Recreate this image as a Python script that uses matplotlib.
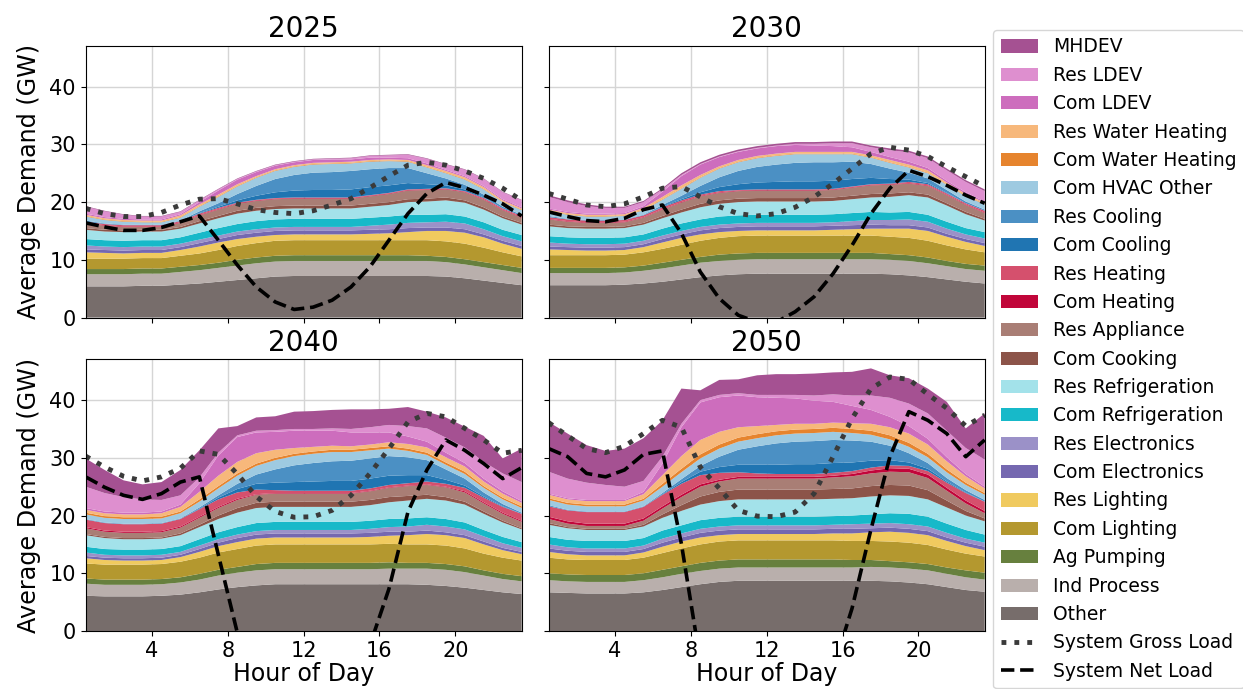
import matplotlib
matplotlib.use("Agg")
import matplotlib.pyplot as plt
from matplotlib.lines import Line2D
from matplotlib.patches import Patch
import numpy as np

hours = [h + 0.5 for h in range(24)]
years = ["2025", "2030", "2040", "2050"]

categories = ["Other", "Ind Process", "Ag Pumping", "Com Lighting", "Res Lighting",
              "Com Electronics", "Res Electronics", "Com Refrigeration", "Res Refrigeration",
              "Com Cooking", "Res Appliance", "Com Heating", "Res Heating", "Com Cooling",
              "Res Cooling", "Com HVAC Other", "Com Water Heating", "Res Water Heating",
              "Com LDEV", "Res LDEV", "MHDEV"]

# ---------------- 2025 ----------------
other_2025 = [5.4,5.4,5.4,5.5,5.5,5.7,5.9,6.2,6.5,6.8,7.1,7.2,7.2,7.2,7.2,7.2,7.2,7.2,7.2,7.1,6.8,6.4,6.0,5.6]
ind_2025 = [2.1,2.1,2.1,2.1,2.1,2.2,2.3,2.4,2.5,2.6,2.6,2.6,2.6,2.6,2.6,2.6,2.6,2.6,2.6,2.5,2.4,2.3,2.2,2.1]
ag_2025 = [0.9,0.9,0.9,0.9,0.9,0.9,0.9,0.9,1.0,1.0,1.0,1.0,1.0,1.0,1.0,1.0,1.0,1.0,0.9,0.9,0.9,0.9,0.9,0.9]
coml_2025 = [1.8,1.8,1.8,1.8,1.8,1.9,2.0,2.2,2.4,2.5,2.6,2.6,2.6,2.6,2.6,2.6,2.6,2.6,2.7,2.7,2.7,2.5,2.2,2.0]
resl_2025 = [1.1,1.0,0.9,0.9,0.9,1.0,1.2,1.3,1.2,1.1,1.0,1.0,1.0,1.0,1.0,1.1,1.2,1.4,1.6,1.8,1.9,1.8,1.5,1.3]
come_2025 = [0.5,0.5,0.5,0.5,0.5,0.5,0.6,0.6,0.7,0.7,0.7,0.7,0.7,0.7,0.7,0.7,0.7,0.7,0.6,0.6,0.6,0.5,0.5,0.5]
rese_2025 = [0.7,0.6,0.6,0.6,0.6,0.6,0.6,0.6,0.6,0.6,0.6,0.6,0.6,0.6,0.6,0.7,0.8,0.9,0.9,1.0,1.0,0.9,0.8,0.8]
comr_2025 = [1.1,1.1,1.1,1.1,1.1,1.1,1.2,1.3,1.3,1.4,1.4,1.4,1.4,1.4,1.4,1.4,1.4,1.4,1.3,1.3,1.2,1.2,1.1,1.1]
resr_2025 = [1.6,1.5,1.5,1.5,1.5,1.5,1.6,1.7,1.8,1.8,1.8,1.8,1.8,1.8,1.8,1.9,2.0,2.2,2.3,2.4,2.4,2.2,2.0,1.8]
cook_2025 = [0.3,0.3,0.3,0.3,0.3,0.3,0.4,0.4,0.5,0.5,0.5,0.5,0.5,0.5,0.5,0.5,0.5,0.5,0.5,0.5,0.4,0.4,0.3,0.3]
app_2025 = [0.8,0.7,0.6,0.5,0.5,0.7,1.0,1.1,1.2,1.2,1.2,1.2,1.2,1.2,1.2,1.3,1.4,1.5,1.5,1.4,1.4,1.3,1.1,0.9]
comh_2025 = [0.1,0.1,0.1,0.1,0.1,0.1,0.1,0.1,0.1,0.1,0.1,0.1,0.1,0.1,0.1,0.1,0.1,0.1,0.1,0.1,0.1,0.1,0.1,0.1]
resh_2025 = [0.2,0.2,0.2,0.2,0.2,0.2,0.2,0.2,0.1,0.1,0.1,0.1,0.1,0.1,0.1,0.1,0.1,0.1,0.1,0.1,0.1,0.2,0.2,0.2]
comc_2025 = [0.0,0.0,0.0,0.0,0.0,0.0,0.1,0.2,0.4,0.7,1.0,1.2,1.3,1.3,1.4,1.4,1.3,1.1,0.8,0.5,0.3,0.1,0.0,0.0]
resc_2025 = [0.2,0.1,0.1,0.1,0.1,0.1,0.3,0.6,1.1,1.7,2.3,2.7,3.0,3.1,3.2,3.1,3.0,2.6,1.9,1.2,0.8,0.5,0.3,0.2]
hvac_2025 = [0.7,0.6,0.5,0.4,0.4,0.5,0.8,1.1,1.3,1.4,1.4,1.4,1.4,1.4,1.3,1.3,1.2,1.1,1.0,0.9,0.9,0.9,0.8,0.8]
comw_2025 = [0.1,0.1,0.1,0.1,0.1,0.1,0.1,0.1,0.1,0.1,0.1,0.1,0.1,0.1,0.1,0.1,0.1,0.1,0.1,0.1,0.1,0.1,0.1,0.1]
resw_2025 = [0.2,0.2,0.2,0.2,0.2,0.3,0.3,0.3,0.3,0.2,0.2,0.2,0.2,0.2,0.2,0.2,0.2,0.2,0.3,0.3,0.3,0.3,0.2,0.2]
comldev_2025 = [0.2,0.2,0.2,0.2,0.2,0.2,0.4,0.7,0.8,0.7,0.6,0.5,0.5,0.5,0.4,0.4,0.3,0.3,0.3,0.2,0.2,0.2,0.2,0.2]
resldev_2025 = [1.2,1.0,0.7,0.5,0.5,0.4,0.3,0.2,0.1,0.1,0.1,0.1,0.1,0.1,0.2,0.3,0.4,0.6,0.8,0.9,1.1,1.2,1.2,1.2]
mhdev_2025 = [0.1,0.1,0.1,0.1,0.1,0.1,0.1,0.1,0.1,0.1,0.1,0.1,0.1,0.1,0.1,0.1,0.1,0.1,0.1,0.1,0.1,0.1,0.1,0.1]
gross_2025 = [18.9,18.0,17.5,17.5,18.2,19.5,20.5,20.6,19.7,18.7,18.2,18.0,18.5,19.5,20.6,22.5,24.5,26.4,26.9,26.4,25.4,24.1,22.4,20.3]
net_2025 = [16.4,15.7,15.1,15.1,15.6,16.6,17.6,13.4,9.1,5.3,2.7,1.4,1.8,3.0,5.3,8.8,13.4,18.0,21.5,23.4,22.5,21.2,19.7,17.6]

# ---------------- 2030 ----------------
other_2030 = [5.6,5.6,5.6,5.6,5.7,5.9,6.2,6.6,7.0,7.3,7.5,7.6,7.6,7.6,7.6,7.6,7.6,7.6,7.5,7.3,7.0,6.6,6.2,5.9]
ind_2030 = [2.1,2.1,2.1,2.1,2.1,2.2,2.3,2.4,2.5,2.5,2.5,2.5,2.5,2.5,2.5,2.5,2.5,2.5,2.5,2.5,2.4,2.3,2.2,2.2]
ag_2030 = [0.9,0.9,0.9,0.9,0.9,0.9,1.0,1.0,1.0,1.1,1.1,1.1,1.1,1.1,1.1,1.1,1.1,1.1,1.0,1.0,1.0,0.9,0.9,0.9]
coml_2030 = [2.2,2.2,2.2,2.2,2.2,2.3,2.4,2.6,2.8,2.9,3.0,3.0,3.0,3.0,3.0,3.0,3.0,3.0,3.0,3.0,2.9,2.7,2.5,2.3]
resl_2030 = [1.0,0.9,0.8,0.8,0.8,0.9,1.1,1.2,1.1,1.0,0.9,0.9,0.9,0.9,0.9,1.0,1.1,1.2,1.4,1.6,1.7,1.5,1.3,1.1]
come_2030 = [0.5,0.5,0.5,0.5,0.5,0.5,0.6,0.6,0.7,0.7,0.7,0.7,0.7,0.7,0.7,0.7,0.7,0.7,0.6,0.6,0.6,0.5,0.5,0.5]
rese_2030 = [0.7,0.6,0.6,0.6,0.6,0.6,0.6,0.6,0.6,0.6,0.6,0.6,0.6,0.6,0.6,0.6,0.7,0.8,0.9,1.0,1.0,0.9,0.8,0.8]
comr_2030 = [1.1,1.1,1.1,1.1,1.1,1.1,1.2,1.3,1.3,1.4,1.4,1.4,1.4,1.4,1.4,1.4,1.4,1.4,1.3,1.3,1.2,1.2,1.1,1.1]
resr_2030 = [1.7,1.6,1.6,1.6,1.6,1.7,1.8,1.9,2.1,2.2,2.3,2.3,2.3,2.3,2.3,2.3,2.4,2.5,2.7,2.9,3.0,2.8,2.4,2.0]
cook_2030 = [0.3,0.3,0.3,0.3,0.3,0.3,0.4,0.5,0.6,0.6,0.6,0.6,0.6,0.6,0.6,0.6,0.6,0.6,0.6,0.5,0.5,0.4,0.4,0.3]
app_2030 = [0.9,0.8,0.7,0.7,0.7,0.9,1.1,1.2,1.3,1.3,1.3,1.3,1.3,1.3,1.3,1.3,1.4,1.5,1.5,1.5,1.5,1.4,1.2,1.0]
comh_2030 = [0.1,0.1,0.1,0.1,0.1,0.1,0.1,0.1,0.1,0.1,0.1,0.1,0.1,0.1,0.1,0.1,0.1,0.1,0.1,0.1,0.1,0.1,0.1,0.1]
resh_2030 = [0.3,0.3,0.3,0.3,0.3,0.3,0.3,0.3,0.2,0.2,0.1,0.1,0.1,0.1,0.1,0.1,0.1,0.1,0.1,0.2,0.2,0.2,0.2,0.3]
comc_2030 = [0.0,0.0,0.0,0.0,0.0,0.0,0.1,0.2,0.4,0.7,1.0,1.2,1.3,1.4,1.4,1.4,1.3,1.1,0.8,0.4,0.2,0.1,0.0,0.0]
resc_2030 = [0.2,0.1,0.1,0.1,0.1,0.1,0.3,0.6,1.1,1.7,2.3,2.7,3.0,3.2,3.3,3.2,3.0,2.4,1.8,1.2,0.8,0.5,0.3,0.2]
hvac_2030 = [0.8,0.7,0.6,0.6,0.6,0.8,0.9,1.2,1.4,1.5,1.5,1.5,1.5,1.5,1.4,1.4,1.3,1.1,1.0,0.9,0.9,0.9,0.9,0.9]
comw_2030 = [0.1,0.1,0.1,0.1,0.1,0.1,0.1,0.1,0.1,0.1,0.1,0.1,0.1,0.1,0.1,0.1,0.1,0.1,0.1,0.1,0.1,0.1,0.1,0.1]
resw_2030 = [0.2,0.2,0.2,0.2,0.2,0.3,0.4,0.5,0.4,0.3,0.3,0.3,0.3,0.3,0.3,0.3,0.3,0.3,0.4,0.4,0.4,0.3,0.3,0.2]
comldev_2030 = [0.2,0.2,0.2,0.2,0.2,0.3,0.9,1.6,1.8,1.6,1.4,1.3,1.3,1.2,1.1,1.0,0.8,0.6,0.5,0.5,0.4,0.3,0.3,0.2]
resldev_2030 = [2.0,1.7,1.3,1.0,0.9,0.7,0.4,0.2,0.1,0.1,0.1,0.1,0.1,0.2,0.3,0.5,0.7,0.8,1.2,1.6,1.7,1.8,1.8,1.8]
mhdev_2030 = [0.3,0.3,0.3,0.2,0.2,0.2,0.2,0.3,0.3,0.3,0.3,0.3,0.3,0.3,0.3,0.3,0.3,0.3,0.3,0.3,0.3,0.3,0.3,0.3]
gross_2030 = [21.5,20.5,19.5,19.2,19.7,20.9,22.4,22.7,20.9,19.2,18.0,17.6,18.0,19.1,20.9,23.2,25.8,28.4,29.5,29.0,27.9,26.1,24.4,22.7]
net_2030 = [18.3,17.5,16.8,16.6,17.2,18.7,19.5,14.6,7.9,3.3,0.4,-0.8,-0.8,1.0,3.6,7.6,12.5,18.0,22.4,25.5,24.4,22.9,21.2,19.8]

# ---------------- 2040 ----------------
other_2040 = [6.1,6.0,6.0,6.0,6.1,6.3,6.7,7.2,7.6,7.9,8.1,8.1,8.1,8.1,8.1,8.1,8.1,8.1,8.0,7.8,7.5,7.1,6.7,6.4]
ind_2040 = [2.1,2.0,2.0,2.0,2.0,2.1,2.2,2.4,2.5,2.6,2.6,2.6,2.6,2.6,2.6,2.6,2.7,2.7,2.8,2.8,2.7,2.5,2.3,2.2]
ag_2040 = [0.9,0.9,0.9,0.9,0.9,0.9,1.0,1.0,1.0,1.1,1.1,1.1,1.1,1.1,1.1,1.1,1.1,1.0,1.0,1.0,1.0,0.9,0.9,0.9]
coml_2040 = [2.6,2.6,2.6,2.6,2.6,2.7,2.8,3.0,3.1,3.2,3.2,3.2,3.2,3.2,3.2,3.2,3.2,3.2,3.2,3.2,3.1,2.9,2.8,2.7]
resl_2040 = [0.9,0.8,0.7,0.7,0.7,0.8,1.0,1.1,1.2,1.2,1.2,1.2,1.2,1.2,1.2,1.3,1.4,1.6,1.8,1.8,1.8,1.6,1.3,1.1]
come_2040 = [0.4,0.4,0.4,0.4,0.4,0.4,0.5,0.6,0.7,0.7,0.7,0.7,0.7,0.7,0.7,0.7,0.7,0.6,0.6,0.5,0.5,0.5,0.4,0.4]
rese_2040 = [0.6,0.5,0.5,0.5,0.5,0.5,0.6,0.6,0.6,0.6,0.6,0.6,0.6,0.6,0.6,0.7,0.8,0.9,1.0,1.0,1.0,0.9,0.8,0.7]
comr_2040 = [1.0,1.0,1.0,1.0,1.0,1.0,1.1,1.2,1.3,1.4,1.4,1.4,1.4,1.4,1.4,1.4,1.4,1.4,1.3,1.3,1.2,1.1,1.1,1.0]
resr_2040 = [2.0,1.9,1.8,1.8,1.8,1.9,2.1,2.3,2.5,2.6,2.6,2.6,2.6,2.6,2.6,2.7,2.9,3.1,3.2,3.2,3.1,2.8,2.5,2.2]
cook_2040 = [0.2,0.2,0.2,0.2,0.2,0.3,0.4,0.6,0.8,0.9,0.9,0.9,0.9,0.9,0.9,0.9,0.9,0.8,0.7,0.6,0.5,0.4,0.3,0.2]
app_2040 = [1.0,0.9,0.9,0.9,0.9,1.0,1.2,1.3,1.4,1.4,1.4,1.4,1.4,1.4,1.4,1.5,1.6,1.7,1.7,1.7,1.6,1.4,1.2,1.1]
comh_2040 = [0.2,0.2,0.2,0.2,0.2,0.2,0.2,0.2,0.2,0.1,0.1,0.1,0.1,0.1,0.1,0.1,0.1,0.1,0.1,0.1,0.2,0.2,0.2,0.2]
resh_2040 = [1.3,1.3,1.3,1.3,1.3,1.3,1.3,1.3,1.1,0.8,0.5,0.4,0.4,0.4,0.4,0.4,0.4,0.4,0.5,0.5,0.6,0.8,1.0,1.2]
comc_2040 = [0.0,0.0,0.0,0.0,0.0,0.0,0.1,0.3,0.6,1.0,1.3,1.5,1.6,1.7,1.7,1.7,1.6,1.4,1.1,0.7,0.4,0.2,0.1,0.0]
resc_2040 = [0.1,0.1,0.1,0.1,0.1,0.1,0.2,0.4,0.9,1.6,2.3,2.9,3.2,3.4,3.5,3.5,3.4,3.1,2.6,1.8,1.2,0.7,0.4,0.2]
hvac_2040 = [0.8,0.8,0.8,0.8,0.8,0.9,1.0,1.2,1.4,1.5,1.6,1.6,1.6,1.6,1.5,1.4,1.3,1.1,0.9,0.8,0.8,0.8,0.8,0.8]
comw_2040 = [0.3,0.3,0.3,0.3,0.3,0.3,0.4,0.4,0.4,0.4,0.4,0.4,0.4,0.4,0.4,0.4,0.4,0.4,0.4,0.4,0.4,0.3,0.3,0.3]
resw_2040 = [0.5,0.5,0.5,0.5,0.6,0.8,1.3,1.8,2.0,1.8,1.4,1.0,0.8,0.7,0.6,0.6,0.7,0.8,0.9,0.9,0.9,0.8,0.7,0.6]
comldev_2040 = [0.3,0.3,0.3,0.3,0.3,0.4,1.5,3.5,4.3,3.6,3.1,3.0,2.8,2.6,2.4,2.1,1.7,1.3,1.0,0.8,0.6,0.5,0.4,0.3]
resldev_2040 = [3.7,3.2,2.7,2.3,2.0,1.6,1.0,0.5,0.3,0.3,0.3,0.3,0.3,0.4,0.6,0.9,1.3,1.8,2.3,2.6,2.7,2.9,3.1,3.3]
mhdev_2040 = [4.9,4.0,2.9,2.6,3.1,4.4,4.7,4.2,1.6,2.3,2.4,3.0,3.1,3.2,3.4,3.1,2.8,3.3,2.9,3.5,3.6,4.5,2.6,5.8]
gross_2040 = [30.3,28.4,26.8,26.0,26.7,28.2,31.2,30.6,27.2,23.3,20.7,19.7,19.8,20.9,23.5,27.3,31.6,36.2,37.7,37.1,35.1,33.1,30.8,31.3]
net_2040 = [26.7,24.9,23.5,22.8,23.8,25.8,26.7,13.2,-0.3,-5.0,-9.0,-11.0,-11.0,-9.0,-6.0,-2.4,7.3,20.6,27.9,33.1,31.3,29.0,26.4,28.3]

# ---------------- 2050 ----------------
other_2050 = [6.7,6.6,6.5,6.5,6.5,6.7,7.1,7.6,8.1,8.5,8.7,8.7,8.7,8.7,8.7,8.7,8.7,8.7,8.6,8.4,8.1,7.6,7.1,6.8]
ind_2050 = [2.1,2.0,2.0,2.0,2.0,2.1,2.2,2.3,2.3,2.3,2.3,2.3,2.3,2.3,2.3,2.3,2.3,2.4,2.4,2.4,2.4,2.3,2.2,2.1]
ag_2050 = [1.2,1.2,1.2,1.2,1.2,1.2,1.3,1.3,1.4,1.4,1.4,1.4,1.4,1.4,1.4,1.4,1.3,1.2,1.1,1.1,1.1,1.1,1.2,1.2]
coml_2050 = [2.7,2.6,2.6,2.6,2.6,2.7,2.9,3.1,3.2,3.3,3.3,3.3,3.3,3.3,3.3,3.3,3.3,3.3,3.4,3.4,3.3,3.1,2.9,2.8]
resl_2050 = [1.0,0.9,0.8,0.8,0.8,0.9,1.1,1.2,1.2,1.1,1.1,1.1,1.1,1.1,1.1,1.2,1.3,1.5,1.7,1.7,1.7,1.5,1.3,1.1]
come_2050 = [0.6,0.6,0.6,0.6,0.6,0.6,0.7,0.7,0.8,0.8,0.8,0.8,0.8,0.8,0.8,0.8,0.8,0.7,0.7,0.7,0.7,0.6,0.6,0.6]
rese_2050 = [0.7,0.6,0.6,0.6,0.6,0.6,0.7,0.7,0.7,0.7,0.7,0.7,0.7,0.7,0.7,0.7,0.8,0.8,0.8,0.8,0.8,0.8,0.7,0.7]
comr_2050 = [1.3,1.3,1.3,1.3,1.3,1.3,1.4,1.4,1.5,1.5,1.5,1.5,1.5,1.5,1.5,1.5,1.5,1.6,1.7,1.8,1.7,1.6,1.5,1.4]
resr_2050 = [2.1,2.0,1.9,1.9,1.9,2.0,2.2,2.5,2.7,2.9,3.0,3.0,3.0,3.0,3.0,3.0,3.0,3.1,3.1,3.1,3.0,2.8,2.5,2.3]
cook_2050 = [0.3,0.2,0.2,0.2,0.2,0.3,0.6,1.0,1.4,1.6,1.7,1.7,1.7,1.7,1.7,1.7,1.7,1.8,1.8,1.8,1.6,1.2,0.8,0.5]
app_2050 = [0.7,0.6,0.5,0.5,0.5,0.7,1.0,1.4,1.7,1.8,1.9,1.9,1.9,1.9,1.9,2.0,2.1,2.2,2.3,2.3,2.1,1.7,1.3,0.9]
comh_2050 = [0.4,0.4,0.4,0.4,0.4,0.4,0.4,0.4,0.4,0.3,0.3,0.3,0.3,0.3,0.3,0.3,0.4,0.5,0.6,0.6,0.6,0.5,0.5,0.4]
resh_2050 = [1.8,1.9,2.0,2.0,2.0,2.0,2.0,1.9,1.6,1.2,0.8,0.6,0.5,0.5,0.5,0.5,0.5,0.5,0.5,0.5,0.6,0.9,1.3,1.6]
comc_2050 = [0.0,0.0,0.0,0.0,0.0,0.0,0.1,0.3,0.6,1.0,1.3,1.5,1.6,1.7,1.7,1.7,1.5,1.2,0.9,0.6,0.4,0.2,0.1,0.0]
resc_2050 = [0.2,0.1,0.1,0.1,0.1,0.1,0.2,0.5,1.0,1.8,2.6,3.2,3.7,3.9,4.0,4.0,3.8,3.3,2.5,1.6,1.0,0.6,0.4,0.3]
hvac_2050 = [0.9,0.9,0.9,0.9,0.9,1.0,1.1,1.2,1.3,1.4,1.4,1.4,1.4,1.4,1.4,1.4,1.3,1.2,1.1,1.1,1.0,1.0,0.9,0.9]
comw_2050 = [0.3,0.3,0.3,0.3,0.3,0.3,0.5,0.6,0.7,0.7,0.7,0.7,0.7,0.7,0.7,0.7,0.7,0.7,0.7,0.7,0.6,0.5,0.4,0.3]
resw_2050 = [0.6,0.6,0.6,0.6,0.6,0.8,1.5,2.2,2.5,2.2,1.8,1.4,1.1,1.0,0.9,0.9,1.0,1.2,1.4,1.6,1.6,1.4,1.1,0.8]
comldev_2050 = [0.2,0.2,0.2,0.2,0.2,0.4,2.0,5.0,6.5,6.0,5.5,5.0,4.7,4.4,4.0,3.6,3.0,2.4,1.8,1.3,1.0,0.7,0.4,0.3]
resldev_2050 = [3.8,3.4,3.0,2.6,2.3,1.9,1.2,0.6,0.4,0.4,0.4,0.4,0.5,0.6,0.9,1.3,1.8,2.5,3.3,3.9,4.4,4.6,4.5,4.7]
mhdev_2050 = [8.6,7.8,6.5,5.9,6.6,7.4,6.3,6.1,1.7,2.6,2.4,3.4,3.6,3.6,3.8,3.8,4.1,4.7,3.9,4.4,4.3,5.0,3.4,8.0]
gross_2050 = [36.1,33.8,31.6,30.9,32.0,34.2,36.5,35.3,28.4,24.7,20.9,19.9,19.8,20.6,23.8,30.2,36.8,42.0,44.0,43.6,41.0,38.6,35.5,37.4]
net_2050 = [31.6,30.2,27.3,26.7,27.9,30.6,31.2,15.1,-5.3,-12.0,-15.0,-17.0,-17.0,-16.0,-13.0,-6.6,3.9,17.6,30.2,38.0,36.5,34.2,30.2,33.1]

colors = ["#776d6b", "#b9afac", "#67803e", "#b4982f", "#f0ca5f",
          "#7568b0", "#9b91c8", "#17b9c9", "#a3e2ea", "#8c5449",
          "#a97e75", "#c1063a", "#d5506d", "#2075b2", "#4b90c4",
          "#9ecae1", "#e6842e", "#f7b87b", "#cd6dbd", "#de8fcf", "#a55192"]

stacks = {
    "2025": [other_2025, ind_2025, ag_2025, coml_2025, resl_2025, come_2025, rese_2025, comr_2025,
             resr_2025, cook_2025, app_2025, comh_2025, resh_2025, comc_2025, resc_2025, hvac_2025,
             comw_2025, resw_2025, comldev_2025, resldev_2025, mhdev_2025],
    "2030": [other_2030, ind_2030, ag_2030, coml_2030, resl_2030, come_2030, rese_2030, comr_2030,
             resr_2030, cook_2030, app_2030, comh_2030, resh_2030, comc_2030, resc_2030, hvac_2030,
             comw_2030, resw_2030, comldev_2030, resldev_2030, mhdev_2030],
    "2040": [other_2040, ind_2040, ag_2040, coml_2040, resl_2040, come_2040, rese_2040, comr_2040,
             resr_2040, cook_2040, app_2040, comh_2040, resh_2040, comc_2040, resc_2040, hvac_2040,
             comw_2040, resw_2040, comldev_2040, resldev_2040, mhdev_2040],
    "2050": [other_2050, ind_2050, ag_2050, coml_2050, resl_2050, come_2050, rese_2050, comr_2050,
             resr_2050, cook_2050, app_2050, comh_2050, resh_2050, comc_2050, resc_2050, hvac_2050,
             comw_2050, resw_2050, comldev_2050, resldev_2050, mhdev_2050],
}
gross = {"2025": gross_2025, "2030": gross_2030, "2040": gross_2040, "2050": gross_2050}
net = {"2025": net_2025, "2030": net_2030, "2040": net_2040, "2050": net_2050}

fig, axes = plt.subplots(2, 2, sharex=True, sharey=True, figsize=(12.43, 6.89), dpi=100)
fig.subplots_adjust(left=0.0689, right=0.7922, bottom=0.0842, top=0.9337,
                    wspace=0.062, hspace=0.153)

for ax, yr in zip(axes.flat, years):
    ax.set_axisbelow(True)
    ax.grid(True, color="#d5d5d5", linewidth=1.0)
    ax.stackplot(hours, np.array(stacks[yr]), colors=colors, linewidth=0)
    ax.plot(hours, gross[yr], linestyle=":", color="#3a3a3a", linewidth=3.5)
    ax.plot(hours, net[yr], linestyle="--", color="black", linewidth=2.6)
    ax.set_title(yr, fontsize=20)
    ax.set_xlim(0.5, 23.5)
    ax.set_ylim(0, 47.1)
    ax.set_xticks([4, 8, 12, 16, 20])
    ax.set_yticks([0, 10, 20, 30, 40])
    ax.tick_params(labelsize=15)

for ax in axes[:, 0]:
    ax.set_ylabel("Average Demand (GW)", fontsize=17.2, labelpad=6)
for ax in axes[1, :]:
    ax.set_xlabel("Hour of Day", fontsize=17, labelpad=1)

handles = [Patch(facecolor=c, label=l) for c, l in zip(colors, categories)][::-1]
handles += [Line2D([0], [0], linestyle=":", color="#3a3a3a", linewidth=3.5, label="System Gross Load"),
            Line2D([0], [0], linestyle="--", color="black", linewidth=2.6, label="System Net Load")]
fig.legend(handles=handles, loc="upper left", bbox_to_anchor=(993 / 1243, 1 - 30 / 689),
           fontsize=13.5, labelspacing=0.5, borderaxespad=0, frameon=True)

fig.savefig("out.png", dpi=100)
